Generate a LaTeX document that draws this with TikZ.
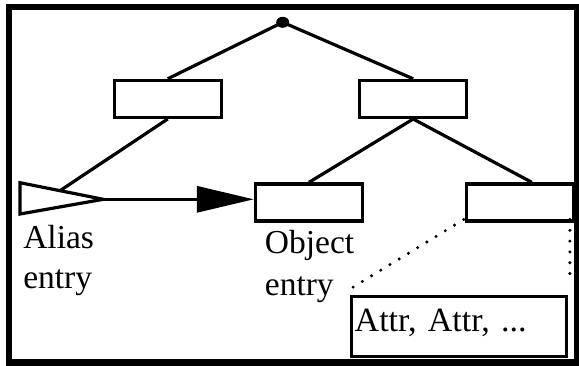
\documentclass[tikz,border=0pt]{standalone}
\usepackage{fontspec}
\setmainfont{Liberation Serif}
\usetikzlibrary{arrows.meta,shapes.geometric}

\begin{document}
\begin{tikzpicture}[x=1pt,y=-1pt,
  line width=3.2pt,
  entrybox/.style={draw,minimum width=107pt,minimum height=37pt,inner sep=0pt},
  textlabel/.style={inner sep=0pt,anchor=base west,font=\fontsize{33.5}{40}\selectfont},
  dots/.style={line width=3.4pt,line cap=round,dash pattern=on 0pt off 10.8pt}]

  % page size and outer frame
  \useasboundingbox (0,0) rectangle (579,365);
  \draw[line width=6.5pt] (9,7) rectangle (577,362.5);

  % root of the tree
  \node[ellipse,fill=black,inner sep=0pt,minimum width=13pt,minimum height=11pt] (root) at (282.7,22.3) {};

  % inner nodes
  \node[entrybox] (lbox) at (167.7,98.9) {};
  \node[entrybox] (rbox) at (413.2,98.9) {};

  % leaves
  \node[entrybox] (objbox) at (308.9,202.5) {};
  \node[entrybox] (lrbox) at (519.8,202.4) {};

  % alias entry triangle
  \coordinate (tl) at (20,182.7);
  \coordinate (bl) at (20,214);
  \coordinate (apex) at (103.3,199.3);
  \coordinate (aliastop) at (60,190.7);
  \draw[line join=miter] (tl) -- (apex) -- (bl) -- cycle;

  % tree edges
  \draw (root.center) -- (lbox.north);
  \draw (root.center) -- (rbox.north);
  \draw (lbox.south) -- (aliastop);
  \draw (rbox.south) -- (objbox.north);
  \draw (rbox.south) -- ([xshift=12pt]lrbox.north);

  % alias reference
  \draw[-{Triangle[length=57pt,width=26pt]}] (apex) -- (apex -| objbox.west);

  % attribute list
  \node[draw,anchor=center,inner sep=3pt,text width=209pt,align=left,
        minimum height=60pt,text height=21pt,text depth=11pt,
        font=\fontsize{34}{40}\selectfont] (attr) at (459.2,326.7) {Attr, Attr, ...};
  \draw[dots] ([xshift=-1pt,yshift=3pt]lrbox.south west) -- ([xshift=3pt,yshift=8pt]attr.north west);
  \draw[dots] ([xshift=-5pt,yshift=3pt]lrbox.south east) -- ([xshift=1.6pt,yshift=13.4pt]attr.north east);

  % labels
  \node[textlabel] (alias) at (21.7,248.3) {\begin{tabular}[t]{@{}l@{}}Alias\\entry\end{tabular}};
  \node[textlabel,font=\fontsize{33.5}{42}\selectfont] (object) at (263.3,253.3) {\begin{tabular}[t]{@{}l@{}}Object\\entry\end{tabular}};
\end{tikzpicture}
\end{document}
